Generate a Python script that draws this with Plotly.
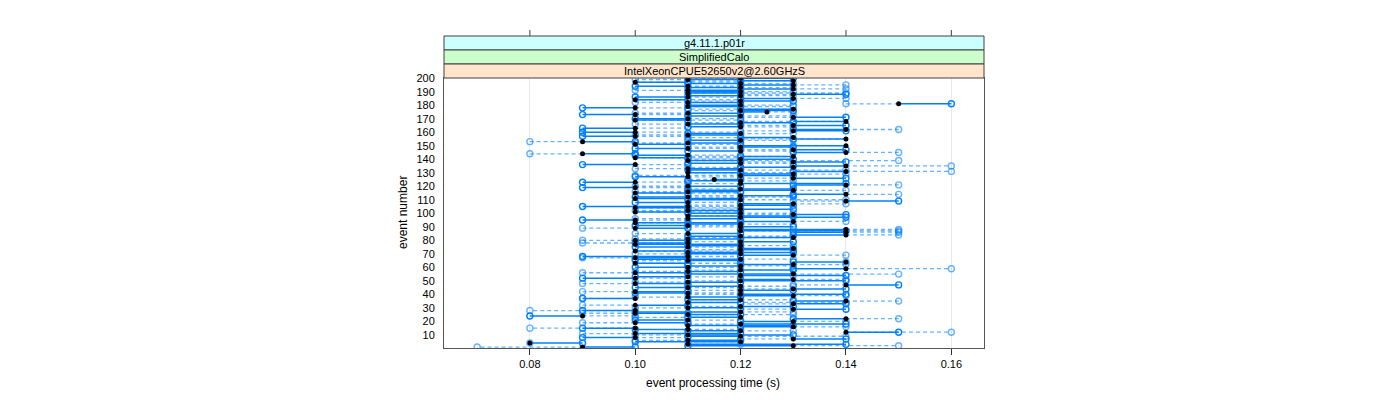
import plotly.graph_objects as go

# ---- data (event number 1..200) ----
events = list(range(1, 201))

ref_time = [
 0.09,0.13,0.11,0.08,0.12,0.11,0.13,0.10,0.12,0.11,
 0.10,0.14,0.12,0.11,0.10,0.13,0.11,0.12,0.10,0.13,
 0.11,0.14,0.12,0.09,0.11,0.10,0.12,0.10,0.13,0.11,
 0.12,0.10,0.13,0.11,0.14,0.12,0.10,0.11,0.13,0.12,
 0.11,0.10,0.12,0.13,0.11,0.12,0.14,0.10,0.11,0.12,
 0.13,0.10,0.11,0.12,0.13,0.10,0.11,0.12,0.14,0.11,
 0.12,0.13,0.10,0.14,0.11,0.12,0.10,0.11,0.13,0.12,
 0.11,0.10,0.12,0.13,0.11,0.12,0.10,0.11,0.12,0.10,
 0.11,0.13,0.12,0.14,0.11,0.14,0.12,0.14,0.10,0.12,
 0.11,0.12,0.10,0.13,0.10,0.11,0.12,0.11,0.13,0.12,
 0.10,0.11,0.12,0.10,0.11,0.12,0.13,0.11,0.14,0.12,
 0.10,0.11,0.12,0.14,0.10,0.11,0.13,0.12,0.10,0.11,
 0.14,0.12,0.10,0.12,0.115,0.13,0.11,0.12,0.13,0.11,
 0.14,0.12,0.11,0.13,0.14,0.10,0.12,0.13,0.11,0.12,
 0.10,0.13,0.11,0.09,0.14,0.12,0.13,0.11,0.12,0.14,
 0.10,0.11,0.09,0.12,0.14,0.13,0.10,0.11,0.12,0.10,
 0.13,0.14,0.10,0.12,0.13,0.11,0.12,0.14,0.10,0.11,
 0.13,0.12,0.10,0.11,0.125,0.12,0.13,0.10,0.11,0.12,
 0.15,0.11,0.12,0.10,0.13,0.11,0.12,0.13,0.11,0.12,
 0.11,0.13,0.12,0.11,0.13,0.12,0.10,0.13,0.11,0.12,
]

solid_time = [
 0.10,0.11,0.14,0.09,0.10,0.12,0.14,0.09,0.11,0.13,
 0.12,0.15,0.11,0.10,0.09,0.12,0.13,0.14,0.11,0.12,
 0.10,0.13,0.11,0.08,0.12,0.11,0.10,0.09,0.14,0.12,
 0.13,0.11,0.14,0.12,0.13,0.11,0.09,0.12,0.12,0.14,
 0.10,0.11,0.13,0.14,0.10,0.11,0.15,0.11,0.12,0.14,
 0.12,0.09,0.10,0.14,0.11,0.11,0.12,0.13,0.13,0.10,
 0.11,0.12,0.11,0.13,0.12,0.10,0.11,0.09,0.12,0.11,
 0.13,0.11,0.13,0.12,0.10,0.11,0.12,0.10,0.13,0.11,
 0.12,0.12,0.11,0.13,0.12,0.13,0.14,0.12,0.11,0.13,
 0.10,0.11,0.12,0.12,0.09,0.12,0.14,0.13,0.14,0.11,
 0.11,0.12,0.13,0.11,0.09,0.13,0.12,0.10,0.15,0.11,
 0.12,0.10,0.13,0.13,0.11,0.12,0.11,0.13,0.09,0.12,
 0.13,0.14,0.09,0.11,0.12,0.14,0.10,0.13,0.12,0.12,
 0.13,0.11,0.12,0.12,0.13,0.09,0.11,0.14,0.12,0.13,
 0.11,0.12,0.10,0.10,0.13,0.11,0.14,0.10,0.13,0.12,
 0.11,0.12,0.10,0.11,0.13,0.12,0.09,0.12,0.11,0.09,
 0.14,0.13,0.09,0.11,0.14,0.12,0.13,0.13,0.11,0.10,
 0.14,0.11,0.09,0.12,0.12,0.13,0.12,0.09,0.12,0.11,
 0.16,0.12,0.13,0.11,0.12,0.10,0.11,0.14,0.12,0.11,
 0.12,0.12,0.11,0.10,0.12,0.11,0.11,0.12,0.12,0.13,
]

dashed_time = [
 0.07,0.15,0.12,0.08,0.11,0.10,0.12,0.11,0.14,0.10,
 0.09,0.16,0.13,0.12,0.08,0.14,0.12,0.11,0.09,0.14,
 0.12,0.15,0.10,0.10,0.13,0.09,0.13,0.08,0.12,0.10,
 0.11,0.09,0.12,0.14,0.15,0.13,0.09,0.10,0.14,0.11,
 0.12,0.09,0.11,0.12,0.12,0.13,0.13,0.09,0.10,0.11,
 0.14,0.11,0.12,0.13,0.15,0.09,0.10,0.11,0.16,0.12,
 0.13,0.14,0.12,0.14,0.10,0.13,0.09,0.12,0.14,0.10,
 0.12,0.12,0.11,0.13,0.12,0.13,0.11,0.09,0.11,0.09,
 0.10,0.11,0.13,0.15,0.10,0.15,0.15,0.15,0.09,0.11,
 0.12,0.13,0.11,0.14,0.11,0.10,0.13,0.12,0.12,0.13,
 0.12,0.10,0.11,0.12,0.12,0.11,0.14,0.12,0.13,0.14,
 0.11,0.13,0.11,0.15,0.12,0.10,0.14,0.11,0.11,0.10,
 0.15,0.11,0.11,0.13,0.11,0.12,0.12,0.10,0.14,0.13,
 0.16,0.14,0.10,0.11,0.16,0.11,0.13,0.12,0.15,0.11,
 0.12,0.11,0.12,0.08,0.15,0.13,0.12,0.12,0.11,0.13,
 0.12,0.10,0.08,0.13,0.12,0.11,0.11,0.10,0.13,0.12,
 0.12,0.15,0.11,0.13,0.12,0.10,0.11,0.12,0.12,0.12,
 0.12,0.13,0.11,0.10,0.13,0.11,0.11,0.11,0.13,0.13,
 0.14,0.10,0.11,0.12,0.14,0.12,0.13,0.12,0.14,0.13,
 0.10,0.14,0.13,0.12,0.14,0.13,0.12,0.11,0.10,0.11,
]

x_ticks = [0.08, 0.10, 0.12, 0.14, 0.16]
y_ticks = list(range(10, 201, 10))
strip_labels = ["g4.11.1.p01r", "SimplifiedCalo", "IntelXeonCPUE52650v2@2.60GHzS"]

# ---- style ----
BLUE = "#0080ff"
BLUE_LIGHT = "rgba(0,128,255,0.6)"
FONT = "Liberation Sans, Arial, sans-serif"


def segments(x0, x1, ys):
    xs, yy = [], []
    for a, b, y in zip(x0, x1, ys):
        xs += [a, b, None]
        yy += [y, y, None]
    return xs, yy


fig = go.Figure()

dx, dy = segments(ref_time, dashed_time, events)
fig.add_trace(go.Scatter(x=dx, y=dy, mode="lines",
                         line=dict(color=BLUE_LIGHT, width=1.3, dash="4px,3px"),
                         hoverinfo="skip"))
sx, sy = segments(ref_time, solid_time, events)
fig.add_trace(go.Scatter(x=sx, y=sy, mode="lines",
                         line=dict(color=BLUE, width=1.5),
                         hoverinfo="skip"))
fig.add_trace(go.Scatter(x=dashed_time, y=events, mode="markers",
                         marker=dict(symbol="circle-open", size=6, color=BLUE_LIGHT,
                                     line=dict(width=1.4, color=BLUE_LIGHT))))
fig.add_trace(go.Scatter(x=solid_time, y=events, mode="markers",
                         marker=dict(symbol="circle-open", size=6, color=BLUE,
                                     line=dict(width=1.4, color=BLUE))))
fig.add_trace(go.Scatter(x=ref_time, y=events, mode="markers",
                         marker=dict(symbol="circle", size=5, color="black")))

# ---- strips (stacked above panel) ----
PH = 270.0  # panel height in px
def py(px_above):
    return 1.0 + px_above / PH

strip_cols = ["#ccffff", "#ccffcc", "#ffe5cc"]
strip_bounds = [(28, 42), (14, 28), (0, 14)]
for lab, col, (lo, hi) in zip(strip_labels, strip_cols, strip_bounds):
    fig.add_shape(type="rect", xref="paper", yref="paper", x0=0, x1=1,
                  y0=py(lo), y1=py(hi), fillcolor=col,
                  line=dict(color="#404040", width=1), layer="above")
    fig.add_annotation(x=0.5, y=(py(lo) + py(hi)) / 2, xref="paper", yref="paper",
                       text=lab, showarrow=False, font=dict(size=11, color="black", family=FONT),
                       xanchor="center", yanchor="middle")

# top tick marks above strips
for t in x_ticks:
    fig.add_shape(type="line", xref="x", yref="paper", x0=t, x1=t,
                  y0=py(42), y1=py(48), line=dict(color="#404040", width=1))

fig.update_xaxes(range=[0.0637, 0.1662], tickvals=x_ticks,
                 ticktext=[f"{t:.2f}" for t in x_ticks],
                 ticks="outside", ticklen=6, tickcolor="#333333",
                 showline=True, linecolor="#555555", linewidth=1, mirror=True,
                 showgrid=True, gridcolor="#e8e8e8", gridwidth=1, zeroline=False,
                 tickfont=dict(size=11, color="black", family=FONT))
fig.update_yaxes(range=[0.3, 200.1], tickvals=y_ticks,
                 ticks="outside", ticklen=6, tickcolor="rgba(0,0,0,0)",
                 showline=True, linecolor="#555555", linewidth=1, mirror=True,
                 showgrid=False, zeroline=False,
                 tickfont=dict(size=11, color="black", family=FONT))

fig.add_annotation(x=0.498, y=-35 / PH, xref="paper", yref="paper",
                   text="event processing time (s)", showarrow=False,
                   xanchor="center", yanchor="middle",
                   font=dict(size=12, color="black", family=FONT))
fig.add_annotation(x=-41 / 540, y=0.5, xref="paper", yref="paper",
                   text="event number", showarrow=False, textangle=-90,
                   xanchor="center", yanchor="middle",
                   font=dict(size=12, color="black", family=FONT))

# page body has an 8px margin, so the figure is offset by 8px right and down
fig.update_layout(width=1400, height=400, showlegend=False,
                  paper_bgcolor="white", plot_bgcolor="white",
                  margin=dict(l=436, r=424, t=70, b=60),
                  font=dict(family=FONT))

fig.write_html("out.html")
